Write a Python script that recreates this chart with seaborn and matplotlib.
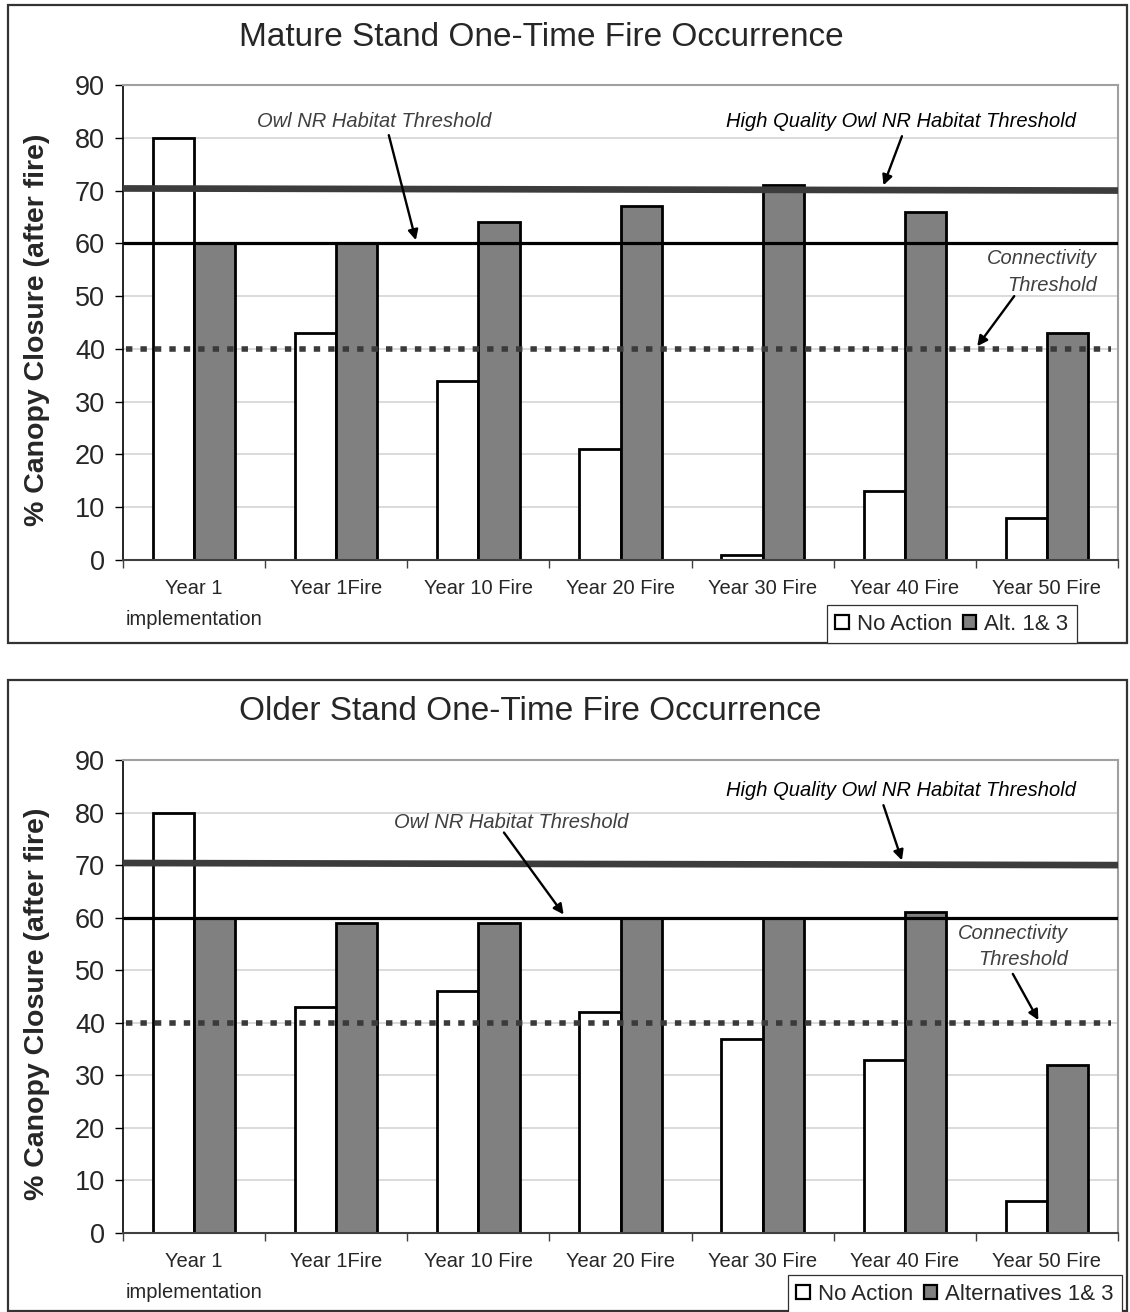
import matplotlib
matplotlib.use("Agg")
import matplotlib.pyplot as plt
import matplotlib.patches as mpatches
import seaborn as sns
import pandas as pd

# ---------------- data ----------------
categories = ["Year 1\nimplementation", "Year 1Fire", "Year 10 Fire", "Year 20 Fire",
              "Year 30 Fire", "Year 40 Fire", "Year 50 Fire"]
series = ["No Action", "Action Alternatives"]

mature_no_action = [80, 43, 34, 21, 1, 13, 8]
mature_alt = [60, 60, 64, 67, 71, 66, 43]

older_no_action = [80, 43, 46, 42, 37, 33, 6]
older_alt = [60, 59, 59, 60, 60, 61, 32]

# threshold lines (value at left end, value at right end)
mature_hq_threshold = [70.4, 70.0]
mature_owl_threshold = [60, 60]
mature_conn_threshold = [40, 40]
older_hq_threshold = [70.4, 70.0]
older_owl_threshold = [60, 60]
older_conn_threshold = [40, 40]

yticks = [0, 10, 20, 30, 40, 50, 60, 70, 80, 90]

titles = ["Mature Stand One-Time Fire Occurrence", "Older Stand One-Time Fire Occurrence"]
legend_labels_top = ["No Action", "Alt. 1& 3"]
legend_labels_bottom = ["No Action", "Alternatives 1& 3"]
ylabel = "% Canopy Closure (after fire)"

# ---------------- style ----------------
sns.set_style("white")
plt.rcParams["font.family"] = ["Liberation Sans", "DejaVu Sans"]

W, H = 1130, 1312
fig = plt.figure(figsize=(W / 100, H / 100), dpi=100)

colors = {"No Action": "white", "Action Alternatives": "#808080"}
ANN_COLOR = "#404040"
ANN_FS = 14.5
TICK_FS = 14.5


def px_axes(x0, y0, x1, y1):
    return [x0 / W, 1 - y1 / H, (x1 - x0) / W, (y1 - y0) / H]


def make_df(na, alt):
    rows = []
    for c, v in zip(categories, na):
        rows.append({"cat": c, "series": series[0], "val": v})
    for c, v in zip(categories, alt):
        rows.append({"cat": c, "series": series[1], "val": v})
    return pd.DataFrame(rows)


def draw_panel(ax, na, alt, hq, owl, conn):
    df = make_df(na, alt)
    sns.barplot(data=df, x="cat", y="val", hue="series", order=categories,
                hue_order=series, palette=colors, saturation=1, width=0.58,
                gap=0, edgecolor="black", linewidth=2.0, legend=False, ax=ax,
                zorder=2, errorbar=None)
    xl = (-0.5, len(categories) - 0.5)
    ax.set_xlim(*xl)
    ax.set_ylim(0, 90)
    ax.set_yticks(yticks)
    ax.yaxis.grid(True, color="#d4d4d4", lw=1.2, zorder=0)
    ax.set_axisbelow(True)
    # threshold lines
    ax.plot(xl, hq, color="#3c3c3c", lw=4.8, solid_capstyle="butt", zorder=4)
    ax.plot(xl, owl, color="black", lw=2.3, solid_capstyle="butt", zorder=4)
    ax.plot([xl[0] + 0.02, xl[1] - 0.05], conn, color="#3a3a3a", lw=4.0,
            linestyle=(0, (1.15, 1.45)), dash_capstyle="butt", zorder=4)
    # axes styling
    for s in ("top", "right"):
        ax.spines[s].set_color("#a0a0a0")
        ax.spines[s].set_linewidth(1.5)
    ax.spines["left"].set_color("black")
    ax.spines["left"].set_linewidth(1.2)
    ax.spines["bottom"].set_color("#404040")
    ax.spines["bottom"].set_linewidth(1.5)
    ax.tick_params(axis="y", which="major", direction="out", length=6, width=1,
                   pad=7, labelsize=19.5, left=True, color="black")
    ax.set_xticks(range(len(categories)))
    ax.set_xticklabels(categories, fontsize=TICK_FS, linespacing=1.75)
    ax.set_xticks([i - 0.5 for i in range(len(categories) + 1)], minor=True)
    ax.tick_params(axis="x", which="major", length=0, pad=14)
    ax.tick_params(axis="x", which="minor", direction="out", length=6, width=1,
                   bottom=True, color="#404040")
    ax.set_xlabel("")
    ax.set_ylabel(ylabel, fontsize=20.5, fontweight="bold", va="center")
    ax.yaxis.set_label_coords(-0.0865, 0.485)


def legend(labels, x0, y_bottom):
    handles = [mpatches.Patch(facecolor=colors[s], edgecolor="black", lw=1.6)
               for s in series]
    leg = fig.legend(handles, labels, loc="lower left",
                     bbox_to_anchor=(x0 / W, 1 - y_bottom / H), ncol=2,
                     fontsize=16, frameon=True, fancybox=False, framealpha=1,
                     edgecolor="#303030", borderaxespad=0, handlelength=0.6,
                     handleheight=0.6, handletextpad=0.35, columnspacing=0.5,
                     borderpad=0.38)
    leg.get_frame().set_linewidth(0.9)
    return leg


def frame(y0, y1):
    r = mpatches.Rectangle((8 / W, 1 - y1 / H), 1119 / W, (y1 - y0) / H,
                           transform=fig.transFigure, fill=False,
                           edgecolor="#333333", lw=1.6, zorder=0)
    fig.patches.append(r)


def arrow(ax, tip, tail):
    ax.annotate("", xy=tip, xytext=tail,
                arrowprops=dict(arrowstyle="-|>", color="black", lw=1.7,
                                mutation_scale=15, shrinkA=0, shrinkB=0),
                zorder=6)


frame(5, 643)
frame(680, 1311)

# ---------------- top panel ----------------
ax1 = fig.add_axes(px_axes(123, 85, 1118, 560))
draw_panel(ax1, mature_no_action, mature_alt, mature_hq_threshold,
           mature_owl_threshold, mature_conn_threshold)
fig.text(541 / W, 1 - 38 / H, titles[0], ha="center", va="center", fontsize=24)

ax1.text(1.27, 83.1, "Owl NR Habitat Threshold", style="italic", color=ANN_COLOR,
         fontsize=ANN_FS, ha="center", va="center")
arrow(ax1, (1.56, mature_owl_threshold[0] + 0.6), (1.37, 80.5))
ax1.text(4.97, 83.1, "High Quality Owl NR Habitat Threshold", style="italic",
         color="black", fontsize=ANN_FS, ha="center", va="center")
arrow(ax1, (4.85, 71.0), (4.98, 80.3))
ax1.text(6.35, 54.6, "Connectivity\nThreshold", style="italic", color=ANN_COLOR,
         fontsize=ANN_FS, ha="right", va="center", multialignment="right",
         linespacing=1.5)
arrow(ax1, (5.51, mature_conn_threshold[0] + 0.5), (5.77, 50.0))
legend(legend_labels_top, 827, 643)

# ---------------- bottom panel ----------------
ax2 = fig.add_axes(px_axes(123, 760, 1118, 1233))
draw_panel(ax2, older_no_action, older_alt, older_hq_threshold,
           older_owl_threshold, older_conn_threshold)
fig.text(530 / W, 1 - 712 / H, titles[1], ha="center", va="center", fontsize=24)

ax2.text(4.97, 84.2, "High Quality Owl NR Habitat Threshold", style="italic",
         color="black", fontsize=ANN_FS, ha="center", va="center")
arrow(ax2, (4.98, 70.9), (4.85, 81.4))
ax2.text(2.23, 78.1, "Owl NR Habitat Threshold", style="italic", color=ANN_COLOR,
         fontsize=ANN_FS, ha="center", va="center")
arrow(ax2, (2.60, older_owl_threshold[0] + 0.6), (2.18, 76.2))
ax2.text(6.15, 54.5, "Connectivity\nThreshold", style="italic", color=ANN_COLOR,
         fontsize=ANN_FS, ha="right", va="center", multialignment="right",
         linespacing=1.5)
arrow(ax2, (5.94, older_conn_threshold[0] + 0.5), (5.76, 49.3))
legend(legend_labels_bottom, 788, 1313)

fig.savefig("out.png", dpi=100, facecolor="white")
